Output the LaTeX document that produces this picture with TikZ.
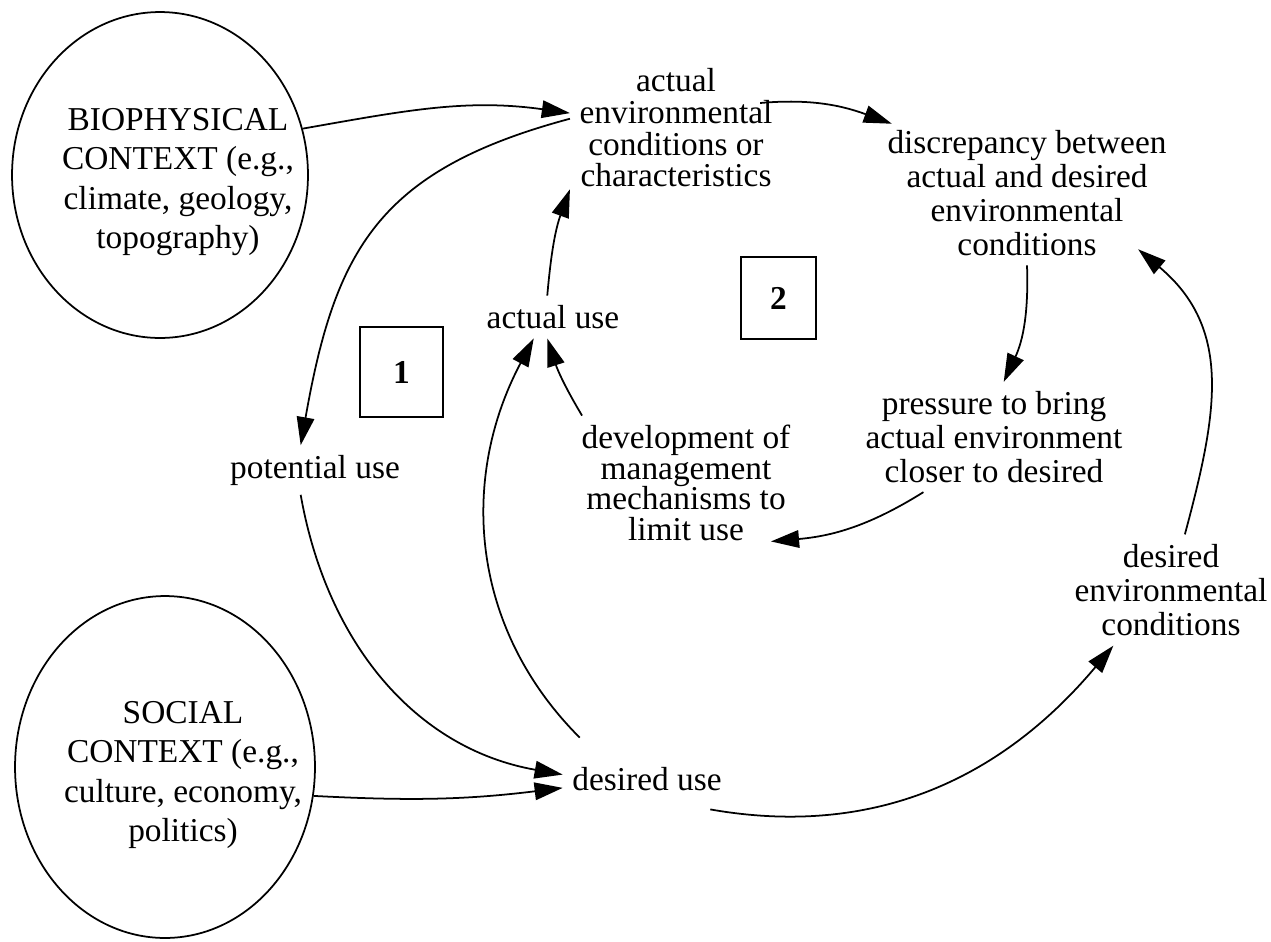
\documentclass[tikz,border=0pt]{standalone}
\usepackage{fontspec}
\setmainfont{Liberation Serif}
\usepackage{tikz}
\usetikzlibrary{arrows.meta,calc,shapes.geometric}

\begin{document}
\begin{tikzpicture}[>={Triangle[length=16pt,width=10pt]}, x=0.02cm, y=0.02cm, line width=1pt,
    txt/.style={align=center, inner sep=5pt, font=\fontsize{19}{19.2}\selectfont},
    ctx/.style={draw, ellipse, inner sep=0pt},
    ctxtxt/.style={align=center, inner sep=0pt, font=\fontsize{19}{22.3}\selectfont},
    numbox/.style={draw, inner sep=0pt, font=\fontsize{19}{19}\selectfont\bfseries},
    link/.style={->}]
    \useasboundingbox (0,0) rectangle (1271,-941);

    \node[ctx, minimum width=5.92cm, minimum height=6.52cm] (bio) at (160,-175) {};
    \node[ctxtxt] (biotxt) at (178,-182) {BIOPHYSICAL\\CONTEXT (e.g.,\\climate, geology,\\topography)};
    \node[ctx, minimum width=6cm, minimum height=6.84cm] (soc) at (165,-767) {};
    \node[ctxtxt] (soctxt) at (183,-775) {SOCIAL\\CONTEXT (e.g.,\\culture, economy,\\politics)};

    \node[txt, font=\fontsize{19}{18}\selectfont] (aec) at (676,-128) {actual\\environmental\\conditions or\\characteristics};
    \node[txt, font=\fontsize{19}{19.3}\selectfont] (disc) at (1027,-193) {discrepancy between\\actual and desired\\environmental\\conditions};
    \node[txt] (au) at (553,-317) {actual use};
    \node[txt, font=\fontsize{19}{17.4}\selectfont] (dev) at (686,-483) {development of\\management\\mechanisms to\\limit use};
    \node[txt] (press) at (994,-437) {pressure to bring\\actual environment\\closer to desired};
    \node[txt] (pot) at (315,-470) {potential use};
    \node[txt] (du) at (647,-779) {desired use};
    \node[txt, font=\fontsize{19}{19.5}\selectfont] (dec) at (1171,-590) {desired\\environmental\\conditions};

    \node[numbox, minimum width=1.66cm, minimum height=1.8cm] (loopA) at (401.5,-372) {1};
    \node[numbox, minimum width=1.5cm, minimum height=1.64cm] (loopB) at (778.5,-298) {2};

    \draw[link] (bio.18) to[out=10,in=172] (aec.172);
    \draw[link] (aec.175) to[out=195,in=80,looseness=1.2] (pot.120);
    \draw[link] (pot.240) to[out=-80,in=170] (du.177);
    \draw[link] (soc.-11) to[out=-3,in=187] (du.186);
    \draw[link] ($(du.north west)+(17,20)$) to[out=135,in=-118] (au.228);
    \draw[link] ($(dev.north west)+(10,0)$) to[out=121,in=-72] (au.-105);
    \draw[link] (au.105) to[out=85,in=-110] (aec.210);
    \draw[link] ($(aec.east)+(-22,25)$) to[out=5,in=160] ($(disc.north west)+(14,-3)$);
    \draw[link] (disc.south) to[out=-88,in=65] (press.80);
    \draw[link] (press.218) to[out=212,in=5] ($(dev.south east)+(-29,9)$);
    \draw[link] ($(du.south east)+(-21,-9)$) to[out=-10,in=230] (dec.224);
    \draw[link] (dec.76) to[out=75,in=-40,looseness=1.1] ($(disc.south east)+(-38,16)$);
\end{tikzpicture}
\end{document}
